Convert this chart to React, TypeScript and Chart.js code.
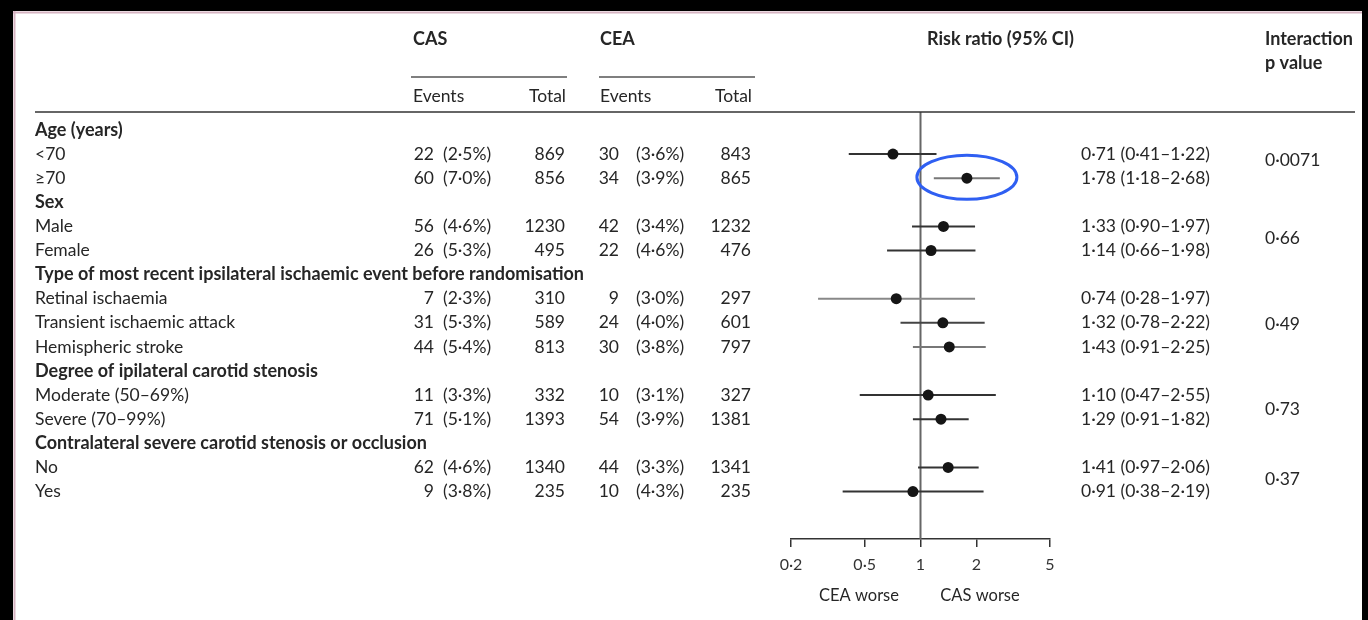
import { useEffect, useRef } from "react";
import { Chart, registerables } from "chart.js";

Chart.register(...registerables);

// ---------- data ----------
const rowLabels = [
  "Age (years)",
  "<70",
  "≥70",
  "Sex",
  "Male",
  "Female",
  "Type of most recent ipsilateral ischaemic event before randomisation",
  "Retinal ischaemia",
  "Transient ischaemic attack",
  "Hemispheric stroke",
  "Degree of ipilateral carotid stenosis",
  "Moderate (50–69%)",
  "Severe (70–99%)",
  "Contralateral severe carotid stenosis or occlusion",
  "No",
  "Yes",
];
const headerRows = [0, 3, 6, 10, 13];
const subgroupRows = [1, 2, 4, 5, 7, 8, 9, 11, 12, 14, 15];

const casEvents = [22, 60, 56, 26, 7, 31, 44, 11, 71, 62, 9];
const casPct = ["2·5", "7·0", "4·6", "5·3", "2·3", "5·3", "5·4", "3·3", "5·1", "4·6", "3·8"];
const casTotal = [869, 856, 1230, 495, 310, 589, 813, 332, 1393, 1340, 235];
const ceaEvents = [30, 34, 42, 22, 9, 24, 30, 10, 54, 44, 10];
const ceaPct = ["3·6", "3·9", "3·4", "4·6", "3·0", "4·0", "3·8", "3·1", "3·9", "3·3", "4·3"];
const ceaTotal = [843, 865, 1232, 476, 297, 601, 797, 327, 1381, 1341, 235];

const riskRatio = [0.71, 1.78, 1.33, 1.14, 0.74, 1.32, 1.43, 1.1, 1.29, 1.41, 0.91];
const ciLow = [0.41, 1.18, 0.9, 0.66, 0.28, 0.78, 0.91, 0.47, 0.91, 0.97, 0.38];
const ciHigh = [1.22, 2.68, 1.97, 1.98, 1.97, 2.22, 2.25, 2.55, 1.82, 2.06, 2.19];

const pValues = ["0·0071", "0·66", "0·49", "0·73", "0·37"];
const pValueRows = [1.25, 4.5, 8.05, 11.6, 14.5];

const xTickValues = [0.2, 0.5, 1, 2, 5];
const highlightedRow = 2;

// ---------- styles ----------
const FONT = "Lato, 'Open Sans', sans-serif";
const TEXT = "#262626";
const NORMAL = `17.5px ${FONT}`;
const BOLD = `bold 18px ${FONT}`;
const ciColors = ["#333", "#777", "#333", "#333", "#888", "#444", "#777", "#333", "#333", "#333", "#333"];

const fmt = (v: number, d = 2) => v.toFixed(d).replace(".", "·");

export default function App() {
  const canvasRef = useRef<HTMLCanvasElement | null>(null);

  useEffect(() => {
    const canvas = canvasRef.current;
    if (!canvas) return;

    const tablePlugin = {
      id: "forestTable",
      beforeDraw(chart: any) {
        const ctx = chart.ctx;
        ctx.save();
        ctx.fillStyle = "#000";
        ctx.fillRect(0, 0, 1368, 620);
        ctx.fillStyle = "#fff";
        ctx.fillRect(13, 11, 1349, 609);
        ctx.strokeStyle = "#d6b4c2";
        ctx.lineWidth = 2;
        ctx.beginPath();
        ctx.moveTo(13, 12.5);
        ctx.lineTo(1362, 12.5);
        ctx.moveTo(14.5, 11);
        ctx.lineTo(14.5, 620);
        ctx.stroke();
        ctx.restore();
      },
      beforeDatasetsDraw(chart: any) {
        const ctx = chart.ctx;
        const xs = chart.scales.x;
        const ys = chart.scales.y;
        const area = chart.chartArea;
        ctx.save();
        const x1 = xs.getPixelForValue(1);
        ctx.strokeStyle = "#666";
        ctx.lineWidth = 2;
        ctx.beginPath();
        ctx.moveTo(x1, area.top);
        ctx.lineTo(x1, area.bottom);
        ctx.stroke();
        ctx.lineWidth = 2;
        subgroupRows.forEach((r, i) => {
          const y = ys.getPixelForValue(r);
          ctx.strokeStyle = ciColors[i];
          ctx.beginPath();
          ctx.moveTo(xs.getPixelForValue(ciLow[i]), y);
          ctx.lineTo(xs.getPixelForValue(ciHigh[i]), y);
          ctx.stroke();
        });
        ctx.restore();
      },
      afterDraw(chart: any) {
        const ctx = chart.ctx;
        const xs = chart.scales.x;
        const ys = chart.scales.y;
        ctx.save();
        ctx.fillStyle = TEXT;
        ctx.textBaseline = "middle";

        ctx.font = BOLD;
        ctx.textAlign = "left";
        ctx.fillText("CAS", 413, 39);
        ctx.fillText("CEA", 600, 39);
        ctx.fillText("Risk ratio (95% CI)", 927, 39);
        ctx.fillText("Interaction", 1265, 39);
        ctx.fillText("p value", 1265, 63);

        ctx.strokeStyle = "#555";
        ctx.lineWidth = 1.5;
        ctx.beginPath();
        ctx.moveTo(411, 77);
        ctx.lineTo(567, 77);
        ctx.moveTo(599, 77);
        ctx.lineTo(755, 77);
        ctx.stroke();

        ctx.font = NORMAL;
        ctx.textAlign = "left";
        ctx.fillText("Events", 413, 96);
        ctx.fillText("Events", 600, 96);
        ctx.textAlign = "right";
        ctx.fillText("Total", 566, 96);
        ctx.fillText("Total", 752, 96);

        ctx.strokeStyle = "#333";
        ctx.lineWidth = 1.5;
        ctx.beginPath();
        ctx.moveTo(35, 112);
        ctx.lineTo(1355, 112);
        ctx.stroke();

        rowLabels.forEach((label, r) => {
          const y = ys.getPixelForValue(r);
          ctx.font = headerRows.includes(r) ? BOLD : NORMAL;
          ctx.textAlign = "left";
          ctx.fillText(label, 35, y);
        });

        ctx.font = NORMAL;
        subgroupRows.forEach((r, i) => {
          const y = ys.getPixelForValue(r);
          ctx.textAlign = "right";
          ctx.fillText(String(casEvents[i]), 434, y);
          ctx.fillText(String(casTotal[i]), 565, y);
          ctx.fillText(String(ceaEvents[i]), 619, y);
          ctx.fillText(String(ceaTotal[i]), 751, y);
          ctx.textAlign = "left";
          ctx.fillText(`(${casPct[i]}%)`, 443, y);
          ctx.fillText(`(${ceaPct[i]}%)`, 636, y);
          ctx.fillText(
            `${fmt(riskRatio[i])} (${fmt(ciLow[i])}–${fmt(ciHigh[i])})`,
            1081,
            y
          );
        });

        pValues.forEach((p, k) => {
          ctx.textAlign = "left";
          ctx.fillText(p, 1265, ys.getPixelForValue(pValueRows[k]));
        });

        ctx.font = `16.5px ${FONT}`;
        ctx.textAlign = "center";
        ctx.fillText("CEA worse", 859, 596);
        ctx.fillText("CAS worse", 980, 596);

        const hi = subgroupRows.indexOf(highlightedRow);
        const cx = xs.getPixelForValue(riskRatio[hi]);
        const cy = ys.getPixelForValue(highlightedRow);
        ctx.strokeStyle = "#2f5ff2";
        ctx.lineWidth = 3;
        ctx.beginPath();
        ctx.ellipse(cx, cy - 1, 50, 22, 0, 0, Math.PI * 2);
        ctx.stroke();

        ctx.restore();
      },
    };

    const chart = new Chart(canvas, {
      type: "scatter",
      data: {
        datasets: [
          {
            data: riskRatio.map((v, i) => ({ x: v, y: subgroupRows[i] })),
            backgroundColor: "#151515",
            borderWidth: 0,
            pointRadius: 5.5,
            pointHoverRadius: 5.5,
          },
        ],
      },
      options: {
        responsive: false,
        animation: false,
        devicePixelRatio: 1,
        events: [],
        layout: { padding: { left: 791, right: 318, top: 112, bottom: 41 } },
        plugins: { legend: { display: false }, tooltip: { enabled: false } },
        scales: {
          x: {
            type: "logarithmic",
            min: 0.2,
            max: 5,
            afterBuildTicks: (scale: any) => {
              scale.ticks = xTickValues.map((v) => ({ value: v }));
            },
            afterFit: (scale: any) => {
              scale.height = 40;
            },
            ticks: {
              autoSkip: false,
              maxRotation: 0,
              padding: 8,
              color: "#333",
              font: { family: FONT, size: 16 },
              callback: (v: any) => fmt(Number(v), Number(v) >= 1 ? 0 : 1),
            },
            grid: {
              display: true,
              drawOnChartArea: false,
              drawTicks: true,
              tickLength: 8,
              color: "#333",
              lineWidth: 1.5,
            },
            border: { display: true, color: "#333", width: 1.5 },
          },
          y: {
            display: false,
            reverse: true,
            min: -0.747,
            max: 16.97,
          },
        },
      },
      plugins: [tablePlugin],
    });

    return () => chart.destroy();
  }, []);

  return (
    <div style={{ position: "fixed", left: 0, top: 0, width: 1368, height: 620, background: "#000" }}>
      <canvas ref={canvasRef} width={1368} height={620} style={{ display: "block" }} />
    </div>
  );
}
